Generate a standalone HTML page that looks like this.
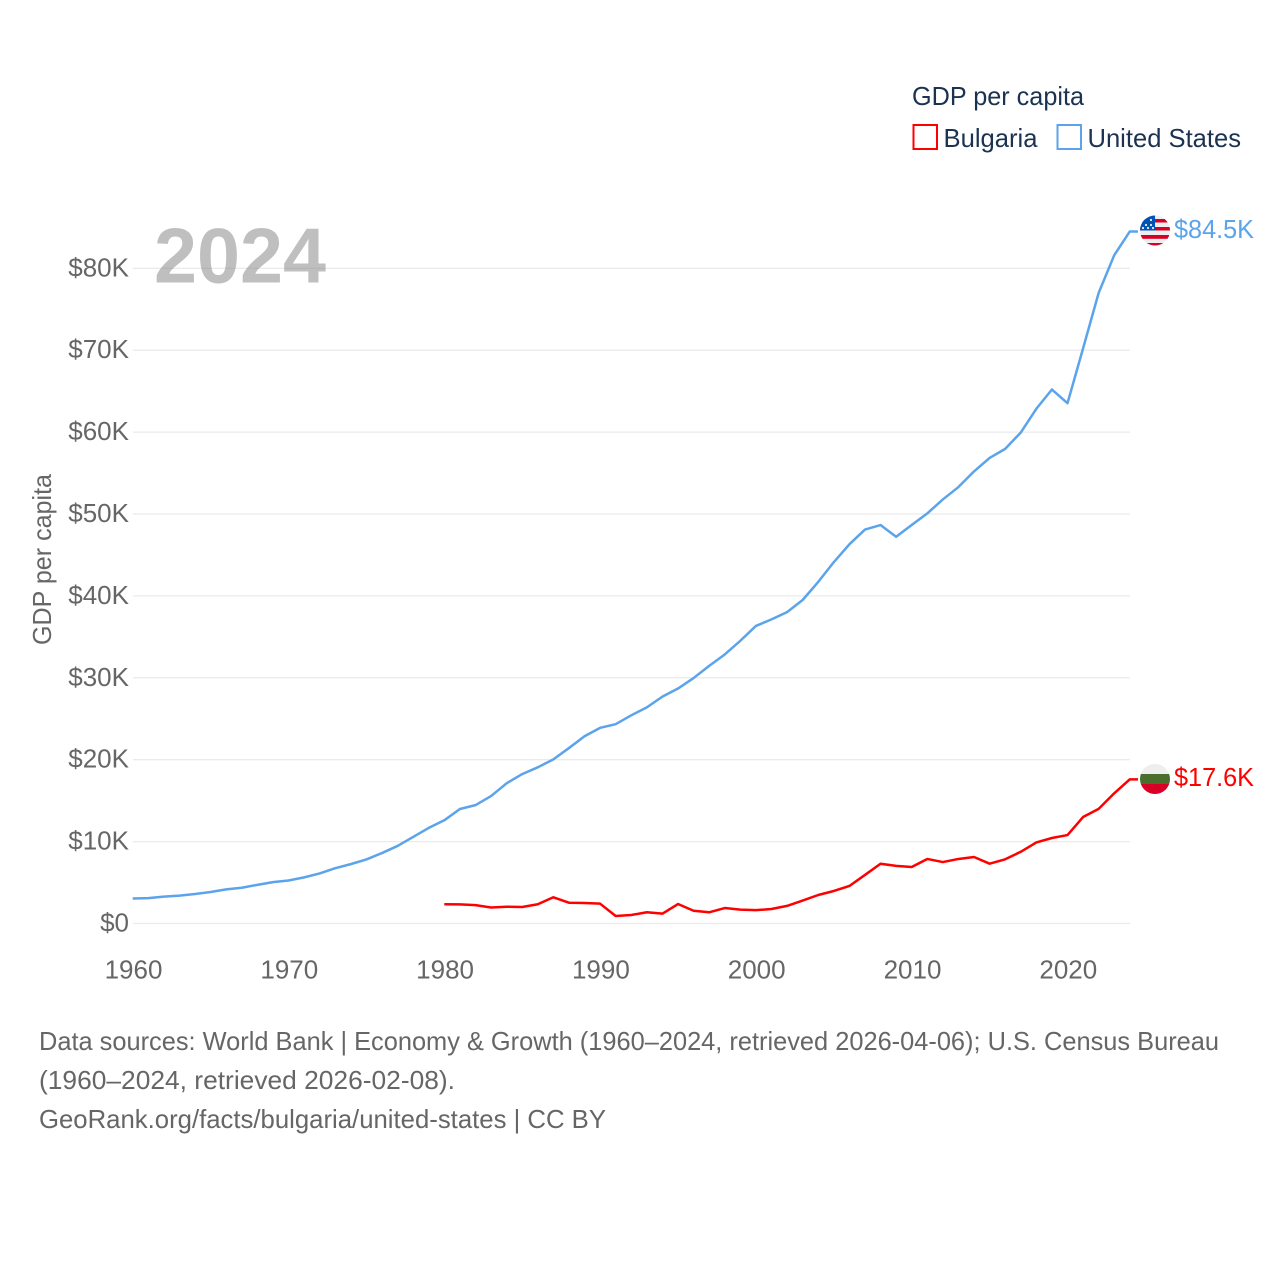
<!DOCTYPE html>
<html lang="en">
<head>
<meta charset="utf-8">
<title>GDP per capita: Bulgaria and United States</title>
<style>
  html, body { margin: 0; padding: 0; background: #fff; }
  svg { display: block; }
  text { font-family: "Liberation Sans", sans-serif; }
</style>
</head>
<body>
<svg id="chart" xmlns="http://www.w3.org/2000/svg" width="1280" height="1280" viewBox="0 0 1280 1280">
  <defs>
    <clipPath id="clip-us"><circle cx="1155" cy="230.5" r="15"></circle></clipPath>
    <clipPath id="clip-bg"><circle cx="1155" cy="779" r="15"></circle></clipPath>
  </defs>
  <rect x="0" y="0" width="1280" height="1280" fill="#ffffff"></rect>

  <g id="grid"></g>
  <g id="y-ticks"></g>
  <g id="x-ticks"></g>

  <text x="154" y="282.5" font-size="78" font-weight="700" fill="#808080" fill-opacity="0.5" textLength="172" lengthAdjust="spacingAndGlyphs">2024</text>

  <text transform="translate(51,645) rotate(-90)" font-size="26" fill="#666666" textLength="171" lengthAdjust="spacingAndGlyphs">GDP per capita</text>

  <g id="series"></g>

  <g clip-path="url(#clip-us)">
    <rect x="1140" y="215" width="30" height="31" fill="#eeeeee"></rect>
    <rect x="1140" y="219" width="30" height="3.5" fill="#d80027"></rect>
    <rect x="1140" y="227" width="30" height="3.5" fill="#d80027"></rect>
    <rect x="1140" y="235" width="30" height="3.8" fill="#d80027"></rect>
    <rect x="1140" y="243" width="30" height="3.5" fill="#d80027"></rect>
    <rect x="1140" y="215" width="15" height="15.5" fill="#0052b4"></rect>
    <circle cx="1146" cy="225" r="1.1" fill="#eeeeee"></circle>
    <circle cx="1151" cy="225" r="1.1" fill="#eeeeee"></circle>
    <circle cx="1151" cy="220" r="1.1" fill="#eeeeee"></circle>
    <circle cx="1148" cy="228" r="1.1" fill="#eeeeee"></circle>
    <circle cx="1153" cy="228" r="1.1" fill="#eeeeee"></circle>
    <circle cx="1143" cy="228" r="1.1" fill="#eeeeee"></circle>
  </g>
  <g clip-path="url(#clip-bg)">
    <rect x="1140" y="764" width="30" height="10" fill="#eeeeee"></rect>
    <rect x="1140" y="774" width="30" height="10" fill="#496e2d"></rect>
    <rect x="1140" y="784" width="30" height="10" fill="#d80027"></rect>
  </g>

  <text x="1174" y="238" font-size="26" fill="#5ba4ec" textLength="80" lengthAdjust="spacingAndGlyphs">$84.5K</text>
  <text x="1174" y="786" font-size="26" fill="#ff0000" textLength="80" lengthAdjust="spacingAndGlyphs">$17.6K</text>

  <text x="912" y="105" font-size="26" fill="#1b3350" textLength="172" lengthAdjust="spacingAndGlyphs">GDP per capita</text>
  <g>
    <rect x="913.5" y="125" width="23.5" height="24" fill="none" stroke="#ff0000" stroke-width="2"></rect>
    <text x="943.5" y="147" font-size="26" fill="#1b3350" textLength="94" lengthAdjust="spacingAndGlyphs">Bulgaria</text>
  </g>
  <g>
    <rect x="1057.5" y="125" width="23.5" height="24" fill="none" stroke="#5ba4ec" stroke-width="2"></rect>
    <text x="1087.5" y="147" font-size="26" fill="#1b3350" textLength="153.5" lengthAdjust="spacingAndGlyphs">United States</text>
  </g>

  <g>
    <text x="39" y="1050" font-size="26" fill="#666666" textLength="1180" lengthAdjust="spacingAndGlyphs">Data sources: World Bank | Economy &amp; Growth (1960–2024, retrieved 2026-04-06); U.S. Census Bureau</text>
    <text x="39" y="1089" font-size="26" fill="#666666" textLength="416" lengthAdjust="spacingAndGlyphs">(1960–2024, retrieved 2026-02-08).</text>
    <text x="39" y="1128" font-size="26" fill="#666666" textLength="567" lengthAdjust="spacingAndGlyphs">GeoRank.org/facts/bulgaria/united-states | CC BY</text>
  </g>
</svg>

<script>
const yTickValues = [0, 10, 20, 30, 40, 50, 60, 70, 80];
const yTickLabels = ["$0", "$10K", "$20K", "$30K", "$40K", "$50K", "$60K", "$70K", "$80K"];
const xTickYears = [1960, 1970, 1980, 1990, 2000, 2010, 2020];
const usStartYear = 1960;
const usValues = [3.05, 3.1, 3.28, 3.4, 3.6, 3.85, 4.17, 4.36, 4.72, 5.05,
  5.25, 5.63, 6.11, 6.75, 7.25, 7.82, 8.6, 9.47, 10.57, 11.67,
  12.6, 13.98, 14.45, 15.56, 17.12, 18.24, 19.07, 20.04, 21.42, 22.86,
  23.89, 24.34, 25.42, 26.39, 27.70, 28.69, 29.97, 31.46, 32.85, 34.52,
  36.33, 37.13, 38.02, 39.50, 41.71, 44.12, 46.30, 48.1, 48.65, 47.22,
  48.65, 50.07, 51.78, 53.29, 55.2, 56.85, 57.95, 59.95, 62.85, 65.2,
  63.53, 70.22, 77.0, 81.6, 84.5];
const bulgariaStartYear = 1980;
const bulgariaValues = [2.35, 2.33, 2.24, 1.95, 2.05, 2.01, 2.35, 3.2, 2.54, 2.5,
  2.42, 0.92, 1.04, 1.37, 1.2, 2.38, 1.56, 1.37, 1.89, 1.69,
  1.63, 1.77, 2.15, 2.8, 3.48, 3.97, 4.58, 5.93, 7.3, 7.03,
  6.9, 7.88, 7.5, 7.88, 8.12, 7.3, 7.84, 8.76, 9.9, 10.44,
  10.8, 13.0, 14.0, 15.9, 17.6];

const NS = "http://www.w3.org/2000/svg";
const xAxis = function (year) { return 132.7 + (year - 1960) * 15.58; };
const yAxis = function (value) { return 923.5 - value * 8.19; };

const gridGroup = document.getElementById("grid");
const yGroup = document.getElementById("y-ticks");
const xGroup = document.getElementById("x-ticks");
const seriesGroup = document.getElementById("series");

yTickValues.forEach(function (value, i) {
  const line = document.createElementNS(NS, "line");
  
  
  line.setAttribute("x1", 133);
  line.setAttribute("x2", 1130);
  line.setAttribute("y1", yAxis(value));
  line.setAttribute("y2", yAxis(value));
  line.setAttribute("stroke", "#ebebeb");
  line.setAttribute("stroke-width", "1.3");
  gridGroup.appendChild(line);

  const label = document.createElementNS(NS, "text");
  
  
  label.setAttribute("x", 129);
  label.setAttribute("y", yAxis(value) + 8);
  label.setAttribute("text-anchor", "end");
  label.setAttribute("font-size", "26");
  label.setAttribute("fill", "#666666");
  label.textContent = yTickLabels[i];
  yGroup.appendChild(label);
});

xTickYears.forEach(function (year) {
  const label = document.createElementNS(NS, "text");
  
  
  label.setAttribute("x", xAxis(year) + 0.8);
  label.setAttribute("y", 978.5);
  label.setAttribute("text-anchor", "middle");
  label.setAttribute("font-size", "26");
  label.setAttribute("fill", "#666666");
  label.textContent = String(year);
  xGroup.appendChild(label);
});

function buildPoints(startYear, values) {
  const pts = values.map(function (v, i) {
    return xAxis(startYear + i).toFixed(2) + "," + yAxis(v).toFixed(2);
  });
  const last = values[values.length - 1];
  pts.push("1138," + yAxis(last).toFixed(2));
  return pts.join(" ");
}

const bulgariaLine = document.createElementNS(NS, "polyline");


bulgariaLine.setAttribute("points", buildPoints(bulgariaStartYear, bulgariaValues));
bulgariaLine.setAttribute("fill", "none");
bulgariaLine.setAttribute("stroke", "#ff0000");
bulgariaLine.setAttribute("stroke-width", "2.5");
bulgariaLine.setAttribute("stroke-linejoin", "round");
seriesGroup.appendChild(bulgariaLine);

const usLine = document.createElementNS(NS, "polyline");


usLine.setAttribute("points", buildPoints(usStartYear, usValues));
usLine.setAttribute("fill", "none");
usLine.setAttribute("stroke", "#5ba4ec");
usLine.setAttribute("stroke-width", "2.5");
usLine.setAttribute("stroke-linejoin", "round");
seriesGroup.appendChild(usLine);
</script>
</body>
</html>
